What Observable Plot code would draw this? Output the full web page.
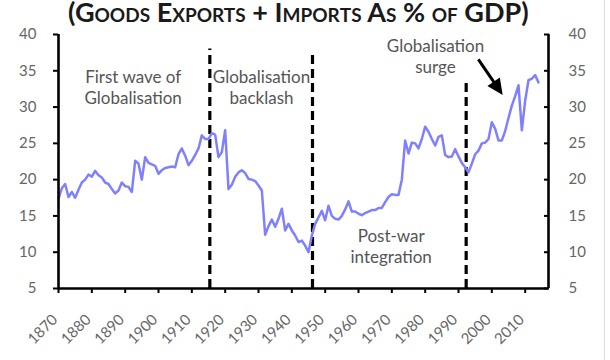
<!DOCTYPE html>
<html><head><meta charset="utf-8">
<script src="https://cdn.jsdelivr.net/npm/d3@7"></script>
<script src="https://cdn.jsdelivr.net/npm/@observablehq/plot@0.6"></script>
<style>
html,body{margin:0;padding:0;background:#fff;}
body{width:610px;height:360px;overflow:hidden;position:relative;font-family:Lato,sans-serif;}
#chart{position:absolute;left:0;top:0;}
#title{position:absolute;top:0;left:68px;font-family:Lato,sans-serif;font-weight:bold;font-size:26px;font-variant:small-caps;color:#1a1a1a;white-space:nowrap;line-height:0.8;}
#title span{display:inline-block;line-height:0.8;white-space:pre;}
#base{width:0;height:0;}
#edge{position:absolute;left:604px;top:0;width:1px;height:360px;background:#dcdcdc;}
</style></head><body>
<div id="chart"></div>
<div id="title"><span id="tpre">(Goods Exports + Impor</span><span>ts As % of GDP)</span><span id="base"></span></div>
<div id="edge"></div>
<script>
// Years 1870-2014
const years = d3.range(1870, 2015);
// Goods exports + imports as % of GDP
const openness = [
  17.4, 18.8, 19.4, 17.6, 18.3, 17.5, 18.6, 19.6, 20.0, 20.7,
  20.4, 21.2, 20.6, 20.3, 19.6, 19.4, 18.7, 18.1, 18.5, 19.6,
  19.1, 19.0, 18.3, 22.6, 22.2, 20.0, 23.1, 22.3, 22.1, 21.9,
  20.8, 21.3, 21.6, 21.7, 21.8, 21.7, 23.5, 24.3, 23.3, 22.0,
  22.6, 23.4, 24.3, 26.1, 25.6, 25.6, 26.4, 26.2, 23.1, 23.8,
  26.8, 18.7, 19.3, 20.4, 21.0, 21.3, 20.9, 20.1, 20.0, 19.8,
  19.2, 18.5, 12.4, 13.6, 14.5, 13.5, 14.6, 16.0, 13.0, 13.9,
  13.0, 12.3, 11.4, 11.6, 10.9, 10.0, 12.3, 13.9, 14.8, 15.7,
  14.4, 16.4, 15.0, 14.6, 14.5, 15.0, 15.9, 17.0, 15.6, 15.6,
  15.3, 15.1, 15.4, 15.6, 15.8, 15.8, 16.1, 16.1, 16.9, 17.6,
  18.0, 17.9, 17.9, 20.0, 25.4, 23.6, 25.1, 25.0, 24.3, 25.6,
  27.3, 26.6, 25.6, 24.7, 25.9, 26.1, 23.4, 23.1, 23.2, 24.2,
  23.2, 22.3, 21.7, 21.0, 22.2, 23.5, 24.0, 25.0, 25.1, 25.6,
  27.9, 27.0, 25.4, 25.4, 26.7, 28.5, 30.2, 31.5, 33.0, 26.8,
  30.9, 33.7, 33.9, 34.4, 33.4
];
const yTicks = [5, 10, 15, 20, 25, 30, 35, 40];
const xTicks = d3.range(1870, 2011, 10);
// Era boundaries (dashed lines): year and top value
const eraBreakYears = [1915.4, 1946.2, 1992.3];
const eraBreakTops = [38.0, 37.6, 33.7];
// Annotation labels anchored in data coordinates
const annotationTexts = ["First wave of\nGlobalisation", "Globalisation\nbacklash", "Post-war\nintegration", "Globalisation\nsurge"];
const annotationYears = [1892.4, 1930.9, 1969.8, 1983.1];
const annotationValues = [32.8, 32.8, 10.9, 37.1];
const arrowYears = [1996.1, 2003.4];
const arrowValues = [36.5, 31.6];

const data = years.map((year, i) => ({year, value: openness[i]}));
const breaks = eraBreakYears.map((year, i) => ({year, top: eraBreakTops[i]}));
const notes = annotationTexts.map((text, i) => ({text, year: annotationYears[i], value: annotationValues[i]}));

function arrowMark(index, scales) {
  const x1 = scales.x(arrowYears[0]), y1 = scales.y(arrowValues[0]);
  const x2 = scales.x(arrowYears[1]), y2 = scales.y(arrowValues[1]);
  const dx = x2 - x1, dy = y2 - y1, len = Math.hypot(dx, dy);
  const ux = dx / len, uy = dy / len;
  const hl = 16, hw = 7.5;
  const bx = x2 - ux * hl, by = y2 - uy * hl;
  const g = d3.create("svg:g");
  g.append("line").attr("x1", x1).attr("y1", y1).attr("x2", bx + ux * 2).attr("y2", by + uy * 2)
    .attr("stroke", "#000").attr("stroke-width", 3);
  g.append("path")
    .attr("d", `M${x2},${y2}L${bx - uy * hw},${by + ux * hw}L${bx + uy * hw},${by - ux * hw}Z`)
    .attr("fill", "#000");
  return g.node();
}

const chart = Plot.plot({
  width: 610,
  height: 360,
  marginLeft: 58,
  marginRight: 62,
  marginTop: 34,
  marginBottom: 72,
  x: {domain: [1870, 2017], label: null},
  y: {domain: [5, 40], label: null},
  style: {fontFamily: "Lato, sans-serif", fontSize: "15px", color: "#666", background: "transparent", overflow: "visible"},
  marks: [
    Plot.axisY(yTicks, {anchor: "left", tickSize: 5, tickPadding: 17, stroke: "#000", strokeWidth: 2, fill: "#666", fontSize: 15}),
    Plot.axisY(yTicks, {anchor: "right", tickSize: 5, dx: -5, stroke: "#000", strokeWidth: 2, tickFormat: () => ""}),
    Plot.axisY(yTicks, {anchor: "right", tickSize: 0, tickPadding: 20, fill: "#666", fontSize: 15}),
    Plot.axisX(xTicks, {anchor: "bottom", tickSize: 5, stroke: "#000", strokeWidth: 2, tickFormat: () => ""}),
    Plot.text(xTicks, {x: d => d, frameAnchor: "bottom", rotate: -45, textAnchor: "end", dx: 0, dy: 32, fill: "#666", fontSize: 15, text: d => String(d)}),
    Plot.ruleX(breaks, {x: "year", y1: 5, y2: "top", stroke: "#000", strokeWidth: 3.2, strokeDasharray: "9,5"}),
    Plot.line(data, {x: "year", y: "value", stroke: "#8080ff", strokeWidth: 2.5}),
    Plot.ruleX([1870, 2017], {y1: 5, y2: 40, stroke: "#000", strokeWidth: 2.6}),
    Plot.ruleY([5], {x1: 1870, x2: 2017, stroke: "#000", strokeWidth: 2.6}),
    Plot.text(notes, {x: "year", y: "value", text: "text", fill: "#555", fontSize: 17, lineHeight: 1.22}),
    arrowMark
  ]
});
document.getElementById("chart").appendChild(chart);

// Fit the title: prefix "(Goods Exports + Impor" spans ~269px starting at x=68; keep glyph tops inside the page
const title = document.getElementById("title");
const fs0 = 26;
title.style.fontSize = fs0 + "px";
const wPre = document.getElementById("tpre").getBoundingClientRect().width;
const fs = fs0 * 269 / wPre;
title.style.fontSize = fs.toFixed(2) + "px";
const tRect = title.getBoundingClientRect();
const baseOff = document.getElementById("base").getBoundingClientRect().bottom - tRect.top;
const baseline = 0.74 * fs + 1.5;
title.style.top = (baseline - baseOff).toFixed(2) + "px";
</script>
</body></html>
